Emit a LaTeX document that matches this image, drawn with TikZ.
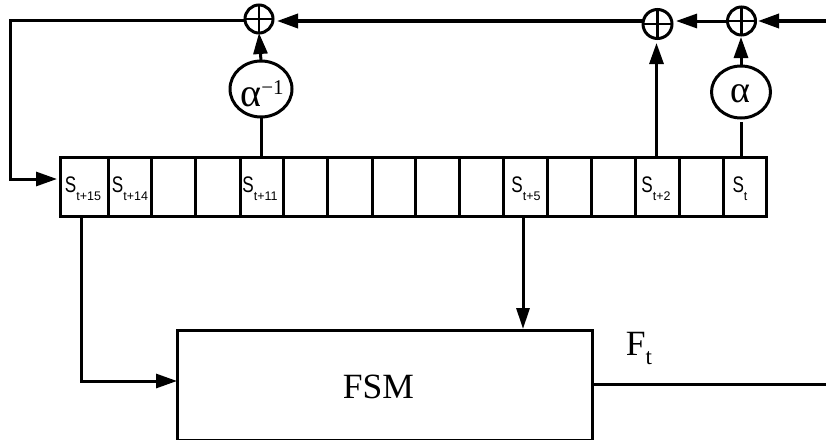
\documentclass[tikz,border=0pt]{standalone}
\usepackage{fontspec}
\setmainfont{Liberation Serif}
\newfontfamily\helv[FakeStretch=0.76]{Liberation Sans}
\newfontfamily\helvsub{Liberation Sans}
\usetikzlibrary{arrows.meta,shapes.geometric}
\tikzset{
  cell/.style={draw,line width=3pt,rectangle,minimum height=59pt,inner sep=0pt,outer sep=0pt},
  xorn/.style={draw,line width=3pt,circle,inner sep=0pt,outer sep=0pt},
  mulnode/.style={draw,line width=3pt,ellipse,inner sep=0pt,outer sep=0pt},
  wire/.style={line width=3pt},
  thick wire/.style={line width=3.5pt},
  big tip/.style={-{Triangle[length=21pt,width=14pt]}},
  slim tip/.style={-{Triangle[length=21pt,width=13pt]}},
  slab/.style={anchor=base,inner sep=0pt,font=\helv\fontsize{22.5}{25}\selectfont},
  serif lab/.style={inner sep=0pt,font=\fontsize{35.5}{40}\selectfont},
}
\newcommand{\regsub}[1]{S\raisebox{-8.5pt}{\helvsub\fontsize{12.5}{13}\selectfont #1}}
\begin{document}
\begin{tikzpicture}[x=1pt,y=-1pt]
\useasboundingbox (0,0) rectangle (826,439);
% register cells
\foreach \i/\a/\b in {0/60/108,1/108/151,2/151/195,3/195/240,4/240/283,5/283/327,6/327/372,7/372/415,8/415/459,9/459/503,10/503/547,11/547/591,12/591/635,13/635/679,14/679/723,15/723/766}{
  \pgfmathsetmacro{\cx}{(\a+\b)/2}
  \pgfmathsetmacro{\cw}{\b-\a}
  \node[cell,minimum width=\cw pt] (c\i) at (\cx,186.5) {};
}
\node[slab] (l0) at (83,192) {\regsub{t+15}};
\node[slab] (l1) at (130,192) {\regsub{t+14}};
\node[slab] (l4) at (260,192) {\regsub{t+11}};
\node[slab] (l10) at (526,192) {\regsub{t+5}};
\node[slab] (l13) at (656,192) {\regsub{t+2}};
\node[slab] (l15) at (740,192) {\regsub{t}};
% xor nodes
\node[xorn,minimum size=28pt] (x1) at (259,19) {};
\node[xorn,minimum size=29pt] (x2) at (657.5,24) {};
\node[xorn,minimum size=28pt] (x3) at (741.5,21) {};
\foreach \n in {x1,x2,x3}{
  \draw[line width=2.4pt] (\n.north) -- (\n.south);
  \draw[line width=2.4pt] (\n.west) -- (\n.east);
}
% multipliers
\node[mulnode,minimum width=62pt,minimum height=56pt] (a1) at (261,89) {};
\node[serif lab,anchor=base] (a1t) at (262,106.5) {\fontsize{40}{44}\selectfont α\raisebox{12pt}{\fontsize{21}{24}\selectfont −1}};
\node[mulnode,minimum width=59pt,minimum height=52pt] (a2) at (741,92) {};
\node[serif lab,anchor=base] (a2t) at (740,102.5) {\fontsize{38}{42}\selectfont α};
% FSM
\node[draw,line width=3pt,rectangle,minimum width=415pt,minimum height=110pt,inner sep=0pt,outer sep=0pt] (fsm) at (384.5,385) {};
\node[serif lab,anchor=base] (fsmt) at (378.5,398) {FSM};
\node[serif lab,anchor=base] (ft) at (639,355.5) {F\raisebox{-9pt}{\fontsize{23}{24}\selectfont t}};
% free ends
\coordinate (inr) at (826,21);
\coordinate (outr) at (826,384);
\coordinate (fb1) at (10,20);
\coordinate (fb2) at (10,179);
\coordinate (fs1) at (81,381);
\coordinate (up2) at (656.5,157);
\coordinate (fd) at (523,216);
% connectors
\draw[thick wire,big tip,shorten >=2.5pt] (inr) -- (x3.east |- inr);
\draw[wire,big tip,shorten >=4pt] (x3.west) -- (x2.east |- x3.west);
\draw[thick wire,big tip,shorten >=4pt] (x2.west |- inr) -- (x1.east |- inr);
\draw[wire,big tip,shorten >=3pt] (x1.west |- fb1) -- (fb1) -- (fb2) -- (c0.west |- fb2);
\draw[wire] (a1.south) -- (a1.south |- c4.north);
\draw[wire,big tip] (a1.north) -- (x1.south);
\draw[wire,big tip,shorten >=4.5pt] (up2) -- (up2 |- x2.south);
\draw[wire] (a2.south |- 0,122) -- (a2.south |- c15.north);
\draw[wire,big tip,shorten >=2pt] (a2.north) -- (a2.north |- x3.south);
\draw[wire,slim tip,shorten >=1pt] (fd) -- (fd |- fsm.north);
\draw[wire,big tip] (c0.south -| fs1) -- (fs1) -- (fsm.west |- fs1);
\draw[wire] (fsm.east |- outr) -- (outr);
\end{tikzpicture}
\end{document}
